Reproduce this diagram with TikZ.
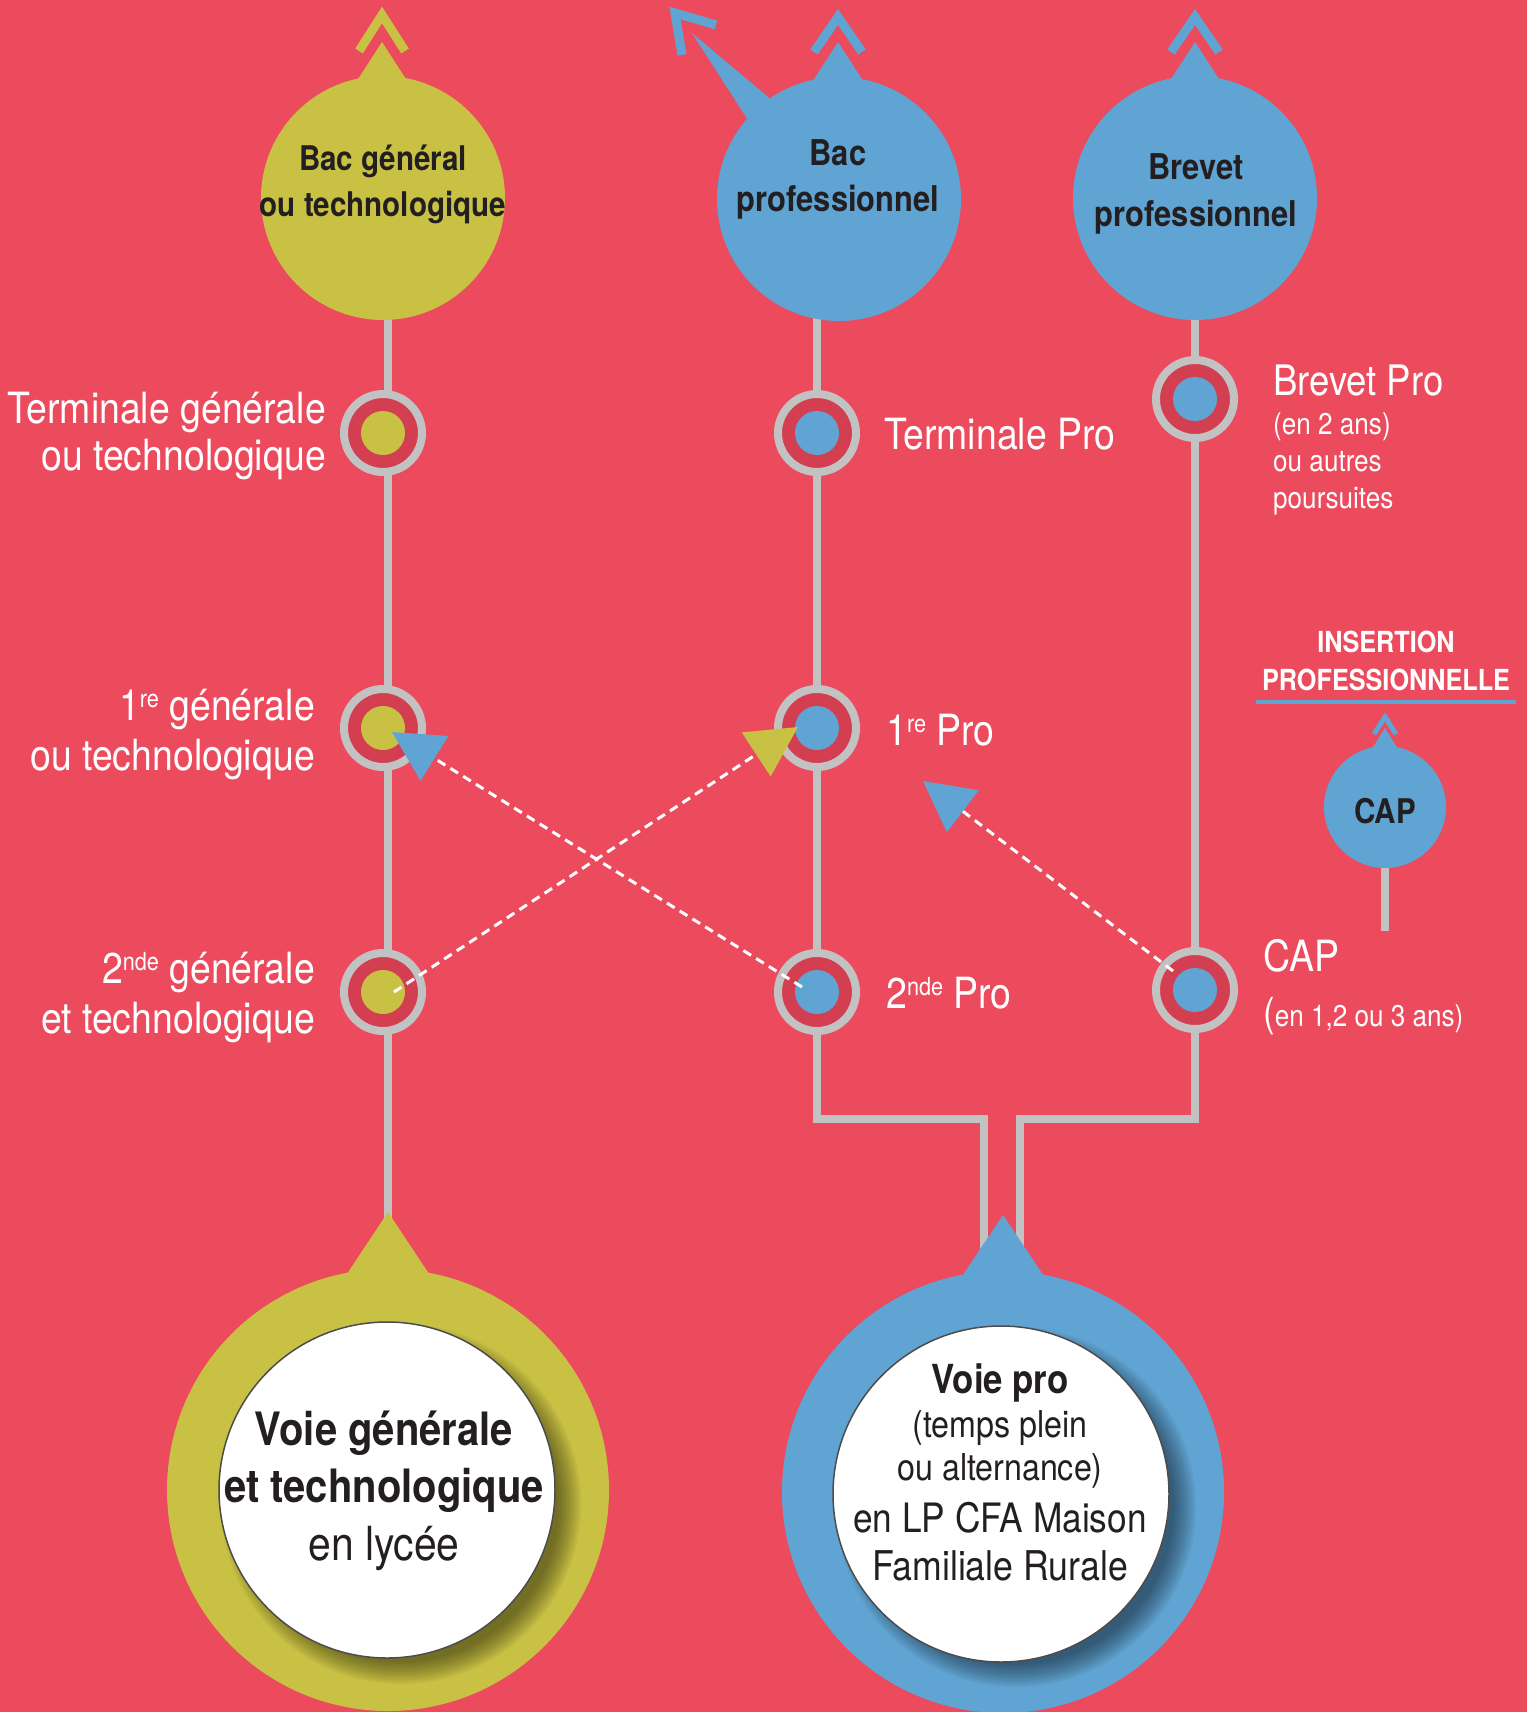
\documentclass[tikz,border=0pt]{standalone}
\usepackage{fontspec}
\usepackage{graphicx}
\setmainfont{TeX Gyre Heros}[FakeStretch=0.87]
\newfontfamily\hb{TeX Gyre Heros}[FakeStretch=0.87]
\usetikzlibrary{arrows.meta}
\definecolor{bgred}{HTML}{EC4A5D}
\definecolor{ringred}{HTML}{D33E51}
\definecolor{grayline}{HTML}{C2C2C2}
\definecolor{colive}{HTML}{C9C143}
\definecolor{cblue}{HTML}{60A4D3}
\definecolor{txtdark}{HTML}{231F20}
\newcommand\fsz[1]{\fontsize{#1}{#1}\selectfont}
\newcommand\supx[1]{\raisebox{0.28em}{\scalebox{0.58}{#1}}}
\tikzset{
  rail/.style={draw=grayline, line width=8pt, line join=miter},
  ring/.style={circle, draw=grayline, line width=8pt, fill=ringred, minimum size=78pt, inner sep=0pt},
  ydot/.style={circle, fill=colive, minimum size=44pt, inner sep=0pt},
  bdot/.style={circle, fill=cblue, minimum size=44pt, inner sep=0pt},
  chev/.style={line width=9pt, line join=miter},
  ctxt/.style={text=txtdark, inner sep=0pt, font=\hb\bfseries\fsz{34}},
  wl/.style={text=white, inner sep=0pt, font=\fsz{43}},
  ws/.style={text=white, inner sep=0pt, font=\fsz{30}},
  dasharr/.style={draw=white, line width=3pt, dash pattern=on 9pt off 6pt},
  ytip/.style={-{Triangle[length=50pt,width=52pt,color=colive]}},
  btip/.style={-{Triangle[length=50pt,width=52pt,color=cblue]}},
  bigc/.style={circle, minimum size=442pt, inner sep=0pt},
  whitec/.style={circle, fill=white, draw=black!70, line width=1.5pt, minimum size=336pt, inner sep=0pt},
}
\begin{document}
\begin{tikzpicture}[x=1pt,y=-1pt]
\useasboundingbox (0,0) rectangle (1527,1712);
\fill[bgred] (0,0) rectangle (1527,1712);

% rails
\coordinate (lt) at (388,300);
\coordinate (lb) at (388,1240);
\coordinate (mt) at (817,300);
\coordinate (mc) at (984,1119);
\coordinate (mb) at (984,1260);
\coordinate (rt) at (1195,300);
\coordinate (rc) at (1020,1119);
\coordinate (rb) at (1020,1260);
\draw[rail] (lt) -- (lb);
\draw[rail] (mt) |- (mc) -- (mb);
\draw[rail] (rt) |- (rc) -- (rb);

% top circles
\node[circle, fill=colive, minimum size=244pt, inner sep=0pt] (bacg) at (383,198) {};
\fill[colive] (382,42) -- (351,90) -- (413,90) -- cycle;
\draw[colive, chev] (359,51) -- (382,15) -- (405,51);

\node[circle, fill=cblue, minimum size=244pt, inner sep=0pt] (bacp) at (839,199) {};
\fill[cblue] (838,42) -- (807,90) -- (869,90) -- cycle;
\draw[cblue, chev] (814,52) -- (838,17) -- (862,52);
\fill[cblue] (692,33) -- (755,131) -- (780,107) -- cycle;
\draw[cblue, chev] (682,55) -- (675,13) -- (716,25);

\node[circle, fill=cblue, minimum size=244pt, inner sep=0pt] (brev) at (1195,198) {};
\fill[cblue] (1195,42) -- (1164,90) -- (1226,90) -- cycle;
\draw[cblue, chev] (1171,52) -- (1195,17) -- (1219,52);

\node[ctxt, anchor=base] (bg1) at (383,171) {Bac général};
\node[ctxt, anchor=base] (bg2) at (383,217) {ou technologique};
\node[ctxt, anchor=base, font=\hb\bfseries\fsz{35.5}] (bp1) at (838,166) {Bac};
\node[ctxt, anchor=base, font=\hb\bfseries\fsz{35.5}] (bp2) at (838,212) {professionnel};
\node[ctxt, anchor=base, font=\hb\bfseries\fsz{35.5}] (bv1) at (1196,180) {Brevet};
\node[ctxt, anchor=base, font=\hb\bfseries\fsz{35.5}] (bv2) at (1196,227) {professionnel};

% small CAP
\coordinate (ct) at (1385,850);
\coordinate (cb) at (1385,931);
\draw[rail] (ct) -- (cb);
\node[circle, fill=cblue, minimum size=122pt, inner sep=0pt] (capc) at (1385,807) {};
\fill[cblue] (1385,728) -- (1370,752) -- (1400,752) -- cycle;
\draw[cblue, line width=5pt, line join=miter] (1374,734) -- (1385,717) -- (1396,734);
\node[ctxt, anchor=base, font=\hb\bfseries\fsz{34}] (capt) at (1385,823) {CAP};

\node[anchor=base, text=white, inner sep=0pt, font=\hb\bfseries\fsz{29}] (ins1) at (1386,652) {INSERTION};
\node[anchor=base, text=white, inner sep=0pt, font=\hb\bfseries\fsz{29}] (ins2) at (1386,690) {PROFESSIONNELLE};
\coordinate (ul1) at (1256,702);
\coordinate (ul2) at (1516,702);
\draw[cblue, line width=4pt] (ul1) -- (ul2);

% bottom left
\node[bigc, fill=colive] (vgt) at (388,1490) {};
\fill[colive] (388,1212) -- (333,1295) -- (443,1295) -- cycle;
\foreach \r in {158,160,...,180} {\fill[black, opacity=0.045] (401,1504) circle (\r pt);}
\node[whitec] (vgtw) at (387,1490) {};
\node[anchor=base, text=txtdark, inner sep=0pt, font=\hb\bfseries\fsz{46}] (vg1) at (384,1445) {Voie générale};
\node[anchor=base, text=txtdark, inner sep=0pt, font=\hb\bfseries\fsz{46}] (vg2) at (384,1502) {et technologique};
\node[anchor=base, text=txtdark, inner sep=0pt, font=\fsz{47}] (vg3) at (384,1560) {en lycée};

% bottom right
\node[bigc, fill=cblue] (vp) at (1003,1492) {};
\fill[cblue] (1003,1215) -- (946,1300) -- (1060,1300) -- cycle;
\foreach \r in {158,160,...,180} {\fill[black, opacity=0.045] (1016,1507) circle (\r pt);}
\node[whitec] (vpw) at (1001,1494) {};
\node[anchor=base, text=txtdark, inner sep=0pt, font=\hb\bfseries\fsz{40}] (vp1) at (1000,1393) {Voie pro};
\node[anchor=base, text=txtdark, inner sep=0pt, font=\fsz{37}] (vp2) at (1000,1437) {(temps plein};
\node[anchor=base, text=txtdark, inner sep=0pt, font=\fsz{37}] (vp3) at (1000,1480) {ou alternance)};
\node[anchor=base, text=txtdark, inner sep=0pt, font=\fsz{40.5}] (vp4) at (1000,1532) {en LP CFA Maison};
\node[anchor=base, text=txtdark, inner sep=0pt, font=\fsz{41}] (vp5) at (1000,1580) {Familiale Rurale};

% stations
\node[ring] (tg) at (383,433) {};  \node[ydot] (tgd) at (tg) {};
\node[ring] (pg) at (383,728) {};  \node[ydot] (pgd) at (pg) {};
\node[ring] (sg) at (383,992) {};  \node[ydot] (sgd) at (sg) {};
\node[ring] (tp) at (817,433) {};  \node[bdot] (tpd) at (tp) {};
\node[ring] (pp) at (817,728) {};  \node[bdot] (ppd) at (pp) {};
\node[ring] (sp) at (817,992) {};  \node[bdot] (spd) at (sp) {};
\node[ring] (bpr) at (1195,399) {}; \node[bdot] (bprd) at (bpr) {};
\node[ring] (cap) at (1195,990) {}; \node[bdot] (capd) at (cap) {};

% dashed arrows
\coordinate (a1s) at (394,992);
\coordinate (a1e) at (798,727);
\coordinate (a2s) at (802,987);
\coordinate (a2e) at (392,732);
\coordinate (a3s) at (1173,971);
\coordinate (a3e) at (923,781);
\draw[dasharr, btip] (a2s) -- (a2e);
\draw[dasharr, ytip] (a1s) -- (a1e);
\draw[dasharr, btip] (a3s) -- (a3e);

% left labels
\node[wl, anchor=base east] (tg1) at (326,423) {Terminale générale};
\node[wl, anchor=base east] (tg2) at (326,470) {ou technologique};
\node[wl, anchor=base east] (pg1) at (315,720) {1\supx{re} générale};
\node[wl, anchor=base east] (pg2) at (315,770) {ou technologique};
\node[wl, anchor=base east] (sg1) at (315,983) {2\supx{nde} générale};
\node[wl, anchor=base east] (sg2) at (315,1033) {et technologique};

% right labels
\node[wl, anchor=base west] (tp1) at (884,449) {Terminale Pro};
\node[wl, anchor=base west] (pp1) at (886,745) {1\supx{re} Pro};
\node[wl, anchor=base west] (sp1) at (886,1008) {2\supx{nde} Pro};
\node[wl, anchor=base west, font=\fsz{42}] (bp1l) at (1273,395) {Brevet Pro};
\node[ws, anchor=base west] (bp2l) at (1273,434) {(en 2 ans)};
\node[ws, anchor=base west] (bp3l) at (1273,471) {ou autres};
\node[ws, anchor=base west] (bp4l) at (1273,508) {poursuites};
\node[wl, anchor=base west] (cap1) at (1263,971) {CAP};
\node[ws, anchor=base west] (cap2) at (1263,1026) {{\fsz{40}(}en 1,2 ou 3 ans)};
\end{tikzpicture}
\end{document}
